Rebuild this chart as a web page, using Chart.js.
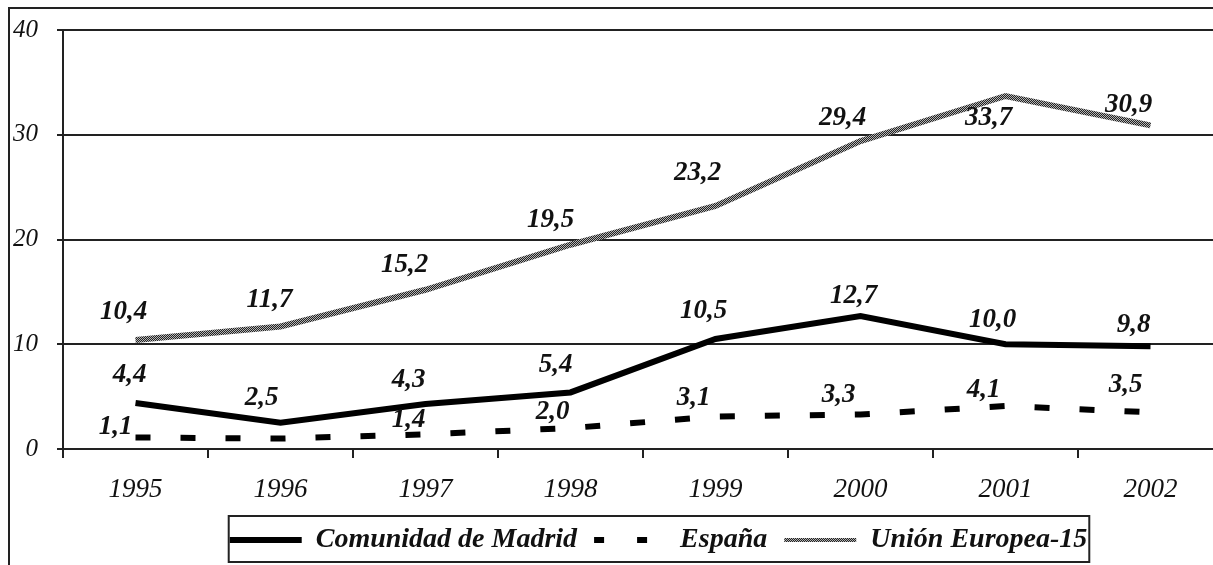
<!DOCTYPE html>
<html>
<head>
<meta charset="utf-8">
<script src="https://cdn.jsdelivr.net/npm/chart.js@4.4.1/dist/chart.umd.min.js"></script>
<style>
  html, body { margin: 0; padding: 0; background: #fff; overflow: hidden; width: 1213px; height: 565px; }
  #frame { position: absolute; left: 8px; top: 7px; width: 1300px; height: 600px; border: 2px solid #222; background: #fff; }
  #c { position: absolute; left: 0; top: 0; }
</style>
</head>
<body>
<div id="frame"><canvas id="c" width="1300" height="562"></canvas></div>
<script>
// ---- data ----
const years = ['1995', '1996', '1997', '1998', '1999', '2000', '2001', '2002'];
const madrid = [4.4, 2.5, 4.3, 5.4, 10.5, 12.7, 10.0, 9.8];
const espana = [1.1, 1.0, 1.4, 2.0, 3.1, 3.3, 4.1, 3.5];
const ue15 = [10.4, 11.7, 15.2, 19.5, 23.2, 29.4, 33.7, 30.9];
const seriesNames = ['Comunidad de Madrid', 'España', 'Unión Europea-15'];
const yTicks = [0, 10, 20, 30, 40];

// ---- label placement (styling, relative to each point) ----
const labelOffsets = [
  [[-6,-28],[-19,-25],[-17,-24],[-15,-27],[-12,-28],[-7,-20],[-13,-24],[-17,-21]],
  [[-20,-10],null,[-17,-14],[-18,-16],[-22,-18],[-22,-19],[-22,-16],[-25,-27]],
  [[-12,-28],[-11,-26],[-21,-25],[-20,-25],[-18,-33],[-18,-23],[-17,22],[-22,-20]]
];

// checkered gray pattern for the EU line
function makePattern() {
  const p = document.createElement('canvas');
  p.width = 2; p.height = 2;
  const g = p.getContext('2d');
  g.fillStyle = '#b4b4b4'; g.fillRect(0, 0, 2, 2);
  g.fillStyle = '#222'; g.fillRect(0, 0, 1, 1); g.fillRect(1, 1, 1, 1);
  return g.createPattern(p, 'repeat');
}
const ctx = document.getElementById('c').getContext('2d');
const uePattern = makePattern();

const fmt = v => v.toFixed(1).replace('.', ',');

const dataLabels = {
  id: 'dataLabels',
  afterDatasetsDraw(chart) {
    const c = chart.ctx;
    c.save();
    c.font = 'italic bold 27px "Liberation Serif"';
    c.fillStyle = '#111';
    c.textAlign = 'center';
    c.textBaseline = 'middle';
    chart.data.datasets.forEach((ds, i) => {
      const meta = chart.getDatasetMeta(i);
      meta.data.forEach((pt, j) => {
        const off = labelOffsets[i][j];
        if (!off) return;
        c.fillText(fmt(ds.data[j]), pt.x + off[0], pt.y + off[1]);
      });
    });
    c.restore();
  }
};

const legendFrame = {
  id: 'legendFrame',
  afterLayout(chart) {
    const lg = chart.legend;
    lg.left += 42; lg.right += 42;
  },
  afterDraw(chart) {
    const hb = chart.legend.legendHitBoxes;
    if (!hb || !hb.length) return;
    const left = Math.min(...hb.map(h => h.left)) - 1;
    const right = Math.max(...hb.map(h => h.left + h.width)) + 2;
    const top = Math.min(...hb.map(h => h.top)) - 10;
    const bottom = Math.max(...hb.map(h => h.top + h.height)) + 8;
    const c = chart.ctx;
    c.save();
    c.strokeStyle = '#222';
    c.lineWidth = 2;
    c.strokeRect(left, top, right - left, bottom - top);
    c.restore();
  }
};

new Chart(ctx, {
  type: 'line',
  data: {
    labels: years,
    datasets: [
      { label: seriesNames[0], data: madrid, borderColor: '#000', backgroundColor: '#000', borderWidth: 6, pointRadius: 0, tension: 0, borderCapStyle: 'butt' },
      { label: seriesNames[1], data: espana, borderColor: '#000', backgroundColor: '#000', borderWidth: 6, borderDash: [15, 30], pointRadius: 0, tension: 0, borderCapStyle: 'butt' },
      { label: seriesNames[2], data: ue15, borderColor: uePattern, backgroundColor: uePattern, borderWidth: 6, pointRadius: 0, tension: 0 }
    ]
  },
  options: {
    responsive: false,
    animation: false,
    layout: { padding: { top: 21, right: 87, left: 0, bottom: 7 } },
    scales: {
      x: {
        offset: true,
        grid: { offset: true, drawOnChartArea: false, drawTicks: true, tickLength: 9, color: '#222', lineWidth: 2 },
        border: { color: '#222', width: 2 },
        ticks: { font: { family: 'Liberation Serif', style: 'italic', size: 27 }, color: '#111', padding: 16, maxRotation: 0 },
        afterFit(s) { s.height = 60; }
      },
      y: {
        min: 0, max: 40,
        afterBuildTicks(s) { s.ticks = yTicks.map(v => ({ value: v })); },
        grid: { color: '#222', lineWidth: 2, tickLength: 6 },
        border: { color: '#222', width: 2 },
        ticks: { font: { family: 'Liberation Serif', style: 'italic', size: 25 }, color: '#111', padding: 19 },
        afterFit(s) { s.width = 53; s.paddingTop = 0; s.paddingBottom = 0; }
      }
    },
    plugins: {
      legend: {
        position: 'bottom',
        labels: {
          usePointStyle: true,
          pointStyle: 'line',
          pointStyleWidth: 72,
          padding: 17,
          color: '#111',
          font: { family: 'Liberation Serif', style: 'italic', weight: 'bold', size: 28 },
          generateLabels(chart) {
            const items = Chart.defaults.plugins.legend.labels.generateLabels(chart);
            items.forEach(it => {
              const ds = chart.data.datasets[it.datasetIndex];
              it.strokeStyle = ds.borderColor;
              it.lineWidth = it.datasetIndex === 2 ? 4 : ds.borderWidth;
              it.lineDash = ds.borderDash ? [10, 33] : [];
              it.lineCap = 'butt';
            });
            return items;
          }
        }
      },
      tooltip: { enabled: false }
    }
  },
  plugins: [dataLabels, legendFrame]
});
</script>
</body>
</html>
